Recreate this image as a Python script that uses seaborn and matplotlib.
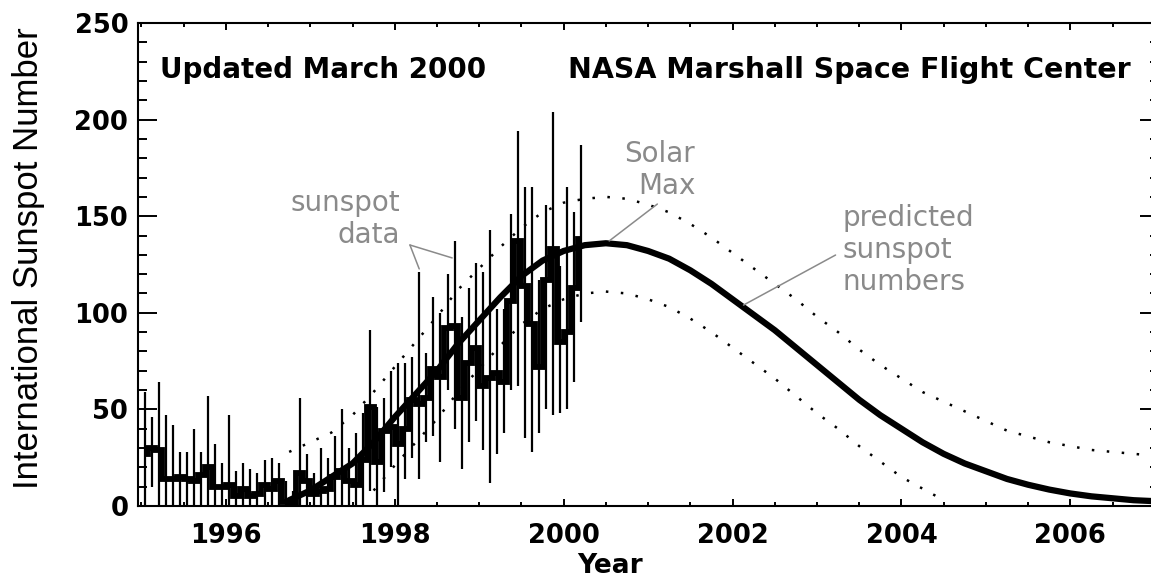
import numpy as np
import pandas as pd
import matplotlib
matplotlib.use("Agg")
import matplotlib.pyplot as plt
from matplotlib.ticker import MultipleLocator
import seaborn as sns

# monthly sunspot numbers, Jan 1995 - Mar 2000
first_year = 1995
month_mean = [27, 30, 29, 14, 14, 15, 14, 13, 16, 20, 10, 10,
              11, 5, 9, 5, 6, 11, 9, 13, 2, 1, 17, 13,
              6, 8, 9, 15, 18, 13, 11, 24, 51, 23, 39, 41,
              32, 40, 55, 53, 56, 71, 67, 92, 93, 56, 74, 82,
              62, 66, 69, 64, 106, 137, 114, 94, 72, 117, 133, 85,
              90, 113, 138]
# daily high / low inside each month (the vertical bars)
month_high = [59, 46, 64, 47, 42, 28, 28, 40, 28, 57, 32, 22,
              47, 18, 22, 19, 17, 24, 25, 22, 13, 8, 56, 27,
              17, 30, 25, 36, 50, 30, 38, 48, 91, 51, 56, 70,
              74, 74, 77, 121, 79, 108, 100, 120, 137, 98, 113, 126,
              121, 143, 102, 102, 151, 194, 165, 165, 117, 156, 204, 124,
              165, 152, 187]
month_low = [0, 10, 0, 0, 0, 0, 0, 0, 0, 0, 0, 0,
             0, 0, 0, 0, 0, 0, 0, 0, 0, 0, 0, 0,
             0, 0, 0, 0, 0, 0, 0, 0, 8, 0, 7, 20,
             0, 14, 25, 14, 33, 36, 23, 60, 40, 19, 33, 44,
             29, 12, 27, 38, 60, 62, 35, 28, 38, 50, 47, 48,
             50, 64, 95]

# predicted cycle (quarter-year steps from 1996.75)
pred_start = 1996.75
pred_mid = [3, 8, 15, 22, 33, 46, 58, 70, 84, 96, 108, 119, 127, 132, 135,
            136, 135, 132, 128, 122, 115, 107, 99, 91, 82, 73, 64, 55, 47, 40,
            33, 27, 22, 18, 14, 11, 8.5, 6.5, 5, 4, 3, 2.5]
pred_high = [28, 33, 38, 47, 59, 72, 85, 98, 112, 123, 134, 144, 152, 157, 159,
             160, 159, 156, 152, 146, 139, 131, 123, 115, 107, 98, 90, 81, 73, 66,
             59, 54, 49, 44, 39, 36, 33, 31, 29, 28, 27, 26]
low_start = 1997.75
pred_low = [8, 21, 33, 45, 59, 71, 83, 94, 102, 107, 110, 111, 110, 107, 103,
            97, 90, 82, 74, 66, 57, 48, 40, 31, 23, 15, 9, 3]

months = first_year + (np.arange(len(month_mean)) + 0.5) / 12
obs = pd.DataFrame({"year": months, "mean": month_mean,
                    "high": month_high, "low": month_low})
pred = pd.DataFrame({"year": pred_start + 0.25 * np.arange(len(pred_mid)),
                     "mid": pred_mid, "high": pred_high})
pred_lo = pd.DataFrame({"year": low_start + 0.25 * np.arange(len(pred_low)),
                        "low": pred_low})

sns.set_theme(style="ticks")
plt.rcParams["font.family"] = ["DejaVu Sans"]
plt.rcParams.update({"text.color": "black", "axes.labelcolor": "black",
                     "xtick.color": "black", "ytick.color": "black"})

fig = plt.figure(figsize=(11.51, 5.77), dpi=100)
ax = fig.add_axes([138 / 1151, 71 / 577, 1021 / 1151, 483 / 577])

# daily ranges + monthly means
ax.vlines(obs["year"], obs["low"], obs["high"], color="black", lw=1.6)
sns.lineplot(data=obs, x="year", y="mean", ax=ax, color="black", lw=4.2,
             drawstyle="steps-mid", solid_joinstyle="miter",
             solid_capstyle="butt")

# prediction and its bounds
sns.lineplot(data=pred, x="year", y="mid", ax=ax, color="black", lw=4.5)
dots = dict(color="black", lw=1.8, linestyle=(0, (1, 5)))
sns.lineplot(data=pred, x="year", y="high", ax=ax, **dots)
sns.lineplot(data=pred_lo, x="year", y="low", ax=ax, **dots)

ax.set_xlim(1994.96, 2007.05)
ax.set_ylim(0, 250)
ax.xaxis.set_major_locator(MultipleLocator(2))
ax.xaxis.set_minor_locator(MultipleLocator(0.5))
ax.yaxis.set_major_locator(MultipleLocator(50))
ax.yaxis.set_minor_locator(MultipleLocator(10))
ax.tick_params(axis="both", which="both", direction="in", top=True,
               right=True, color="black", labelcolor="black", width=1.4)
ax.tick_params(axis="y", which="major", length=13.5, pad=7)
ax.tick_params(axis="y", which="minor", length=6.5)
ax.tick_params(axis="x", which="major", length=5, pad=12)
ax.tick_params(axis="x", which="minor", length=3)
for lab in ax.get_xticklabels() + ax.get_yticklabels():
    lab.set_fontsize(18.5)
    lab.set_fontweight("bold")
for sp in ax.spines.values():
    sp.set_linewidth(1.5)
    sp.set_color("black")

ax.set_xlabel("Year", fontsize=19, fontweight="bold")
ax.xaxis.label.set(va="center")
ax.xaxis.set_label_coords(0.462, -0.124)
ax.set_ylabel("International Sunspot Number", fontsize=25,
              family="Liberation Sans")
ax.yaxis.label.set(va="center", ha="center")
ax.yaxis.set_label_coords(-0.1068, 0.513)

# header texts
ax.text(1995.22, 221.5, "Updated March 2000", fontsize=20,
        fontweight="bold", ha="left", va="baseline")
ax.text(2006.71, 221.5, "NASA Marshall Space Flight Center", fontsize=20.5,
        fontweight="bold", ha="right", va="baseline")

# callouts
grey = "#8a8a8a"
line = dict(arrowstyle="-", color=grey, lw=1.1, shrinkA=0, shrinkB=0)
ax.text(1998.06, 148.6, "sunspot\ndata", fontsize=20, color=grey,
        ha="right", va="center", multialignment="right")
ax.annotate("", xy=(1998.29, 122.7), xytext=(1998.18, 135.1), arrowprops=line)
ax.annotate("", xy=(1998.68, 128.4), xytext=(1998.18, 135.1), arrowprops=line)
ax.text(2001.14, 173.9, "Solar\nMax", fontsize=20, color=grey,
        ha="center", va="center", multialignment="right")
ax.annotate("", xy=(2000.54, 137.2), xytext=(2001.11, 156.3), arrowprops=line)
ax.text(2003.30, 132.5, "predicted\nsunspot\nnumbers", fontsize=20,
        color=grey, ha="left", va="center")
ax.annotate("", xy=(2002.13, 104.0), xytext=(2003.22, 129.9), arrowprops=line)

fig.savefig("out.png", dpi=100)
